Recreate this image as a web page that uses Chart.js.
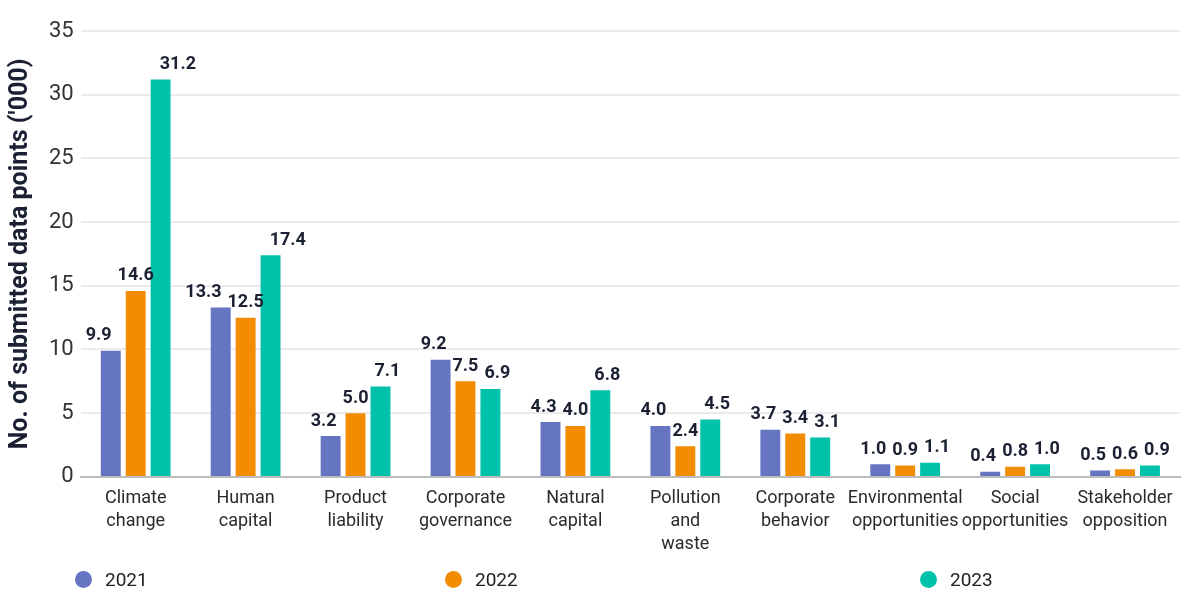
<!DOCTYPE html>
<html>
<head>
<meta charset="utf-8">
<script src="https://cdn.jsdelivr.net/npm/chart.js@4"></script>
<style>
    body { margin: 0; background: #fff; font-family: Roboto, sans-serif; }
    #wrap { position: relative; width: 1200px; height: 600px; }
    .legend { position: absolute; top: 568px; font-size: 19px; color: #222; display: flex; align-items: center; }
    .legend span.dot { width: 17px; height: 17px; border-radius: 50%; display: inline-block; margin-right: 13px; }
</style>
</head>
<body>
<div id="wrap">
    <canvas id="chart" width="1200" height="600"></canvas>
    <div class="legend" style="left:75px"><span class="dot" style="background:#6675c2"></span>2021</div>
    <div class="legend" style="left:445px"><span class="dot" style="background:#f28c00"></span>2022</div>
    <div class="legend" style="left:920px"><span class="dot" style="background:#00c2aa"></span>2023</div>
</div>
<script>
const categories = [
    ["Climate", "change"],
    ["Human", "capital"],
    ["Product", "liability"],
    ["Corporate", "governance"],
    ["Natural", "capital"],
    ["Pollution", "and", "waste"],
    ["Corporate", "behavior"],
    ["Environmental", "opportunities"],
    ["Social", "opportunities"],
    ["Stakeholder", "opposition"]
];
const values2021 = [9.9, 13.3, 3.2, 9.2, 4.3, 4.0, 3.7, 1.0, 0.4, 0.5];
const values2022 = [14.6, 12.5, 5.0, 7.5, 4.0, 2.4, 3.4, 0.9, 0.8, 0.6];
const values2023 = [31.2, 17.4, 7.1, 6.9, 6.8, 4.5, 3.1, 1.1, 1.0, 0.9];
const yTicks = [0, 5, 10, 15, 20, 25, 30, 35];

// labels above each bar, pushed apart sideways when they would touch
const valueLabels = {
    id: "valueLabels",
    afterDatasetsDraw(chart) {
        const ctx = chart.ctx;
        const n = chart.data.datasets.length;
        ctx.save();
        ctx.font = "bold 18px Roboto";
        ctx.fillStyle = "#1b2133";
        ctx.textAlign = "center";
        ctx.textBaseline = "bottom";
        chart.data.labels.forEach((_, j) => {
            const items = [];
            for (let i = 0; i < n; i++) {
                const bar = chart.getDatasetMeta(i).data[j];
                const text = chart.data.datasets[i].data[j].toFixed(1);
                items.push({ text, x: bar.x, y: bar.y - 6, w: ctx.measureText(text).width });
            }
            const gap = 6;
            const mid = Math.floor(n / 2);
            for (let i = mid - 1; i >= 0; i--) {
                const d = (items[i].w + items[i + 1].w) / 2 + gap;
                if (items[i + 1].x - items[i].x < d) items[i].x = items[i + 1].x - d;
            }
            for (let i = mid + 1; i < n; i++) {
                const d = (items[i].w + items[i - 1].w) / 2 + gap;
                if (items[i].x - items[i - 1].x < d) items[i].x = items[i - 1].x + d;
            }
            items.forEach(it => ctx.fillText(it.text, it.x, it.y));
        });
        ctx.restore();
    }
};

const canvas = document.getElementById("chart");
const chart = new Chart(canvas, {
    type: "bar",
    data: {
        labels: categories,
        datasets: [
            { label: "2021", data: values2021, backgroundColor: "#6675c2" },
            { label: "2022", data: values2022, backgroundColor: "#f28c00" },
            { label: "2023", data: values2023, backgroundColor: "#00c2aa" }
        ]
    },
    options: {
        responsive: false,
        animation: false,
        datasets: {
            bar: { categoryPercentage: 0.68, barPercentage: 0.8 }
        },
        layout: {
            padding: { top: 31, right: 20, bottom: 34, left: 6 }
        },
        plugins: {
            legend: { display: false },
            tooltip: { enabled: false }
        },
        scales: {
            x: {
                grid: { display: false, drawTicks: false },
                border: { color: "#bdbdbd", width: 2 },
                ticks: {
                    color: "#2b2b2b",
                    font: { family: "Roboto", size: 18, lineHeight: 1.28 },
                    padding: 10,
                    maxRotation: 0,
                    autoSkip: false
                }
            },
            y: {
                min: 0,
                max: 35,
                afterBuildTicks(axis) {
                    axis.ticks = yTicks.map(v => ({ value: v }));
                },
                grid: { color: "#ebebeb", lineWidth: 2, drawTicks: false },
                border: { display: false },
                ticks: {
                    color: "#333",
                    font: { family: "Roboto", size: 22 },
                    padding: 7
                },
                title: {
                    display: true,
                    text: "No. of submitted data points ('000)",
                    color: "#1b2133",
                    font: { family: "Roboto", size: 25, weight: "bold" },
                    padding: { top: 0, bottom: 6 }
                }
            }
        }
    },
    plugins: [valueLabels]
});
</script>
</body>
</html>
